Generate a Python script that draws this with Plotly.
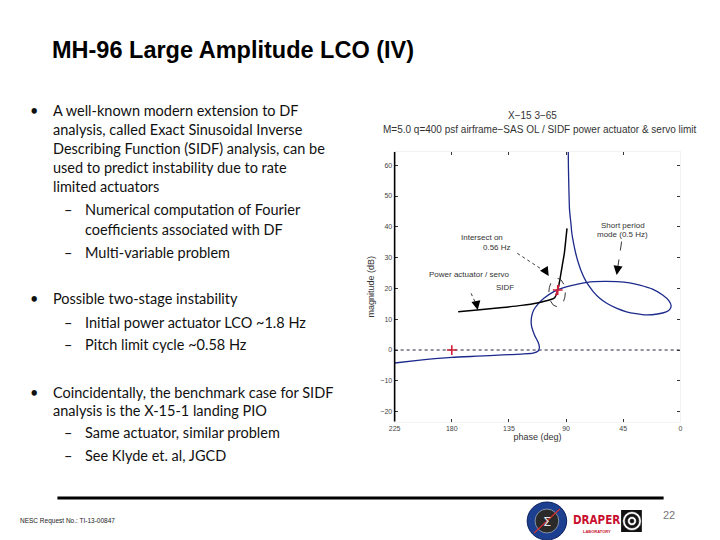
import plotly.graph_objects as go

W, H = 720, 540

# airframe-SAS open loop (blue Nichols curve)
blue_phase = [225, 205, 180, 160, 140, 125, 116, 112, 111, 112, 115, 117.3, 117.2, 115.5, 112,
              107.5, 100, 90, 80, 73.5, 60, 50, 40, 32, 22, 14, 9, 7.3, 8.5, 11.2, 18, 26.8,
              35, 42.4, 50, 58, 64, 68.5, 72, 74.2, 77.5, 80.2, 82.5, 84.1, 85.5, 86.2, 87.3,
              87.8, 88.2, 88.4]
blue_mag = [-4.2, -3.3, -2.4, -2.0, -1.6, -1.3, -1.0, -0.3, 0.8, 2.5, 5.0, 8.0, 10.8, 13.0, 15.0,
            16.8, 18.9, 20.5, 21.5, 22.0, 22.3, 22.2, 21.8, 21.1, 19.8, 17.9, 16.0, 14.4, 13.1,
            12.4, 11.7, 11.4, 11.8, 12.4, 13.5, 15.2, 17.0, 18.9, 20.8, 22.2, 25.0, 28.1, 31.5,
            34.6, 38.0, 41.1, 45.5, 52.0, 60.0, 70.0]

# power actuator / servo SIDF (black curve)
sidf_phase = [175, 160, 140, 125, 112.7, 102, 99, 97.5, 96.6, 95.5, 94.5, 93, 91.4, 90.3, 89.3]
sidf_mag = [12.4, 13.0, 13.8, 14.5, 15.3, 16.4, 17.0, 18.3, 19.5, 21.5, 23.8, 27.5, 31.4, 35.5, 39.5]

red_seg_phase = [98.2, 96.6, 95.6]
red_seg_mag = [17.6, 19.5, 21.2]

cross_phase = [180, 96.6]
cross_mag = [0, 19.5]

zero_phase = [225, 0]
zero_mag = [0, 0]

x_ticks = [225, 180, 135, 90, 45, 0]
y_ticks = [-20, -10, 0, 10, 20, 30, 40, 50, 60]

# slide text
body_lines = [
    ("•", 22, 110), ("A well-known modern extension to DF", 46, 110),
    ("analysis, called Exact Sinusoidal Inverse", 46, 129),
    ("Describing Function (SIDF) analysis, can be", 46, 148),
    ("used to predict instability due to rate", 46, 167),
    ("limited actuators", 46, 186),
    ("–", 57, 210), ("Numerical computation of Fourier", 78, 210),
    ("coefficients associated with DF", 78, 229),
    ("–", 57, 252), ("Multi-variable problem", 78, 252),
    ("•", 22, 298), ("Possible two-stage instability", 46, 298),
    ("–", 57, 322), ("Initial power actuator LCO ~1.8 Hz", 78, 322),
    ("–", 57, 344), ("Pitch limit cycle ~0.58 Hz", 78, 344),
    ("•", 22, 392), ("Coincidentally, the benchmark case for SIDF", 46, 392),
    ("analysis is the X-15-1 landing PIO", 46, 410),
    ("–", 57, 432), ("Same actuator, similar problem", 78, 432),
    ("–", 57, 455), ("See Klyde et. al, JGCD", 78, 455),
]


def px(x):
    return x / W


def py(y):
    return 1 - y / H


fig = go.Figure()

fig.add_trace(go.Scatter(x=zero_phase, y=zero_mag, mode="lines",
                         line=dict(color="#222244", width=1.1, dash="dot"), hoverinfo="skip"))
fig.add_trace(go.Scatter(x=blue_phase, y=blue_mag, mode="lines",
                         line=dict(color="#1c2a8c", width=1.3, shape="spline", smoothing=0.6)))
fig.add_trace(go.Scatter(x=sidf_phase, y=sidf_mag, mode="lines",
                         line=dict(color="black", width=1.5, shape="spline", smoothing=0.6)))
fig.add_trace(go.Scatter(x=red_seg_phase, y=red_seg_mag, mode="lines",
                         line=dict(color="#d0203a", width=1.4)))
fig.add_trace(go.Scatter(x=cross_phase, y=cross_mag, mode="markers",
                         marker=dict(symbol="cross-thin", size=7, color="#d0203a",
                                     line=dict(color="#d0203a", width=1.6))))

tick_font = dict(family="Liberation Sans", size=7, color="#444")
fig.update_xaxes(range=[225, 0], tickvals=x_ticks, ticktext=[str(t) for t in x_ticks],
                 ticks="inside", ticklen=3, tickcolor="#333", mirror="ticks", showline=True,
                 linecolor="#f2f2f2", showgrid=False, zeroline=False, tickfont=tick_font,
                 domain=[px(393), px(682)],
                 title=dict(text="phase (deg)", font=dict(family="Liberation Sans", size=9, color="#333"),
                            standoff=2))
fig.update_yaxes(range=[-23.2, 64.3], tickvals=y_ticks, ticks="inside", ticklen=3, tickcolor="#333",
                 mirror="ticks", showline=True, linecolor="#f2f2f2", showgrid=False, zeroline=False,
                 tickfont=tick_font, domain=[py(421.5), py(152)],
                 title=dict(text="magnitude (dB)", font=dict(family="Liberation Sans", size=9, color="#333"),
                            standoff=4))

shapes = [
    # left axis line
    dict(type="line", xref="paper", yref="paper", x0=px(393), x1=px(393), y0=py(421.5), y1=py(152),
         line=dict(color="black", width=1.6)),
    # dashed ellipse around intersection
    dict(type="circle", xref="x", yref="y", x0=103.6, x1=90.6, y0=14.1, y1=23.3,
         line=dict(color="#222", width=0.9, dash="dash")),
    # arrow shafts
    dict(type="line", xref="x", yref="y", x0=128.4, y0=31.4, x1=105.5, y1=25.2,
         line=dict(color="#222", width=0.9, dash="dot")),
    dict(type="line", xref="x", yref="y", x0=46.3, y0=35.2, x1=49.6, y1=26.0,
         line=dict(color="#222", width=0.9, dash="dash")),
    dict(type="line", xref="x", yref="y", x0=164.8, y0=18.4, x1=160.3, y1=14.4,
         line=dict(color="#222", width=0.9, dash="dot")),
    # footer rule
    dict(type="line", xref="paper", yref="paper", x0=px(52), x1=px(665), y0=py(498), y1=py(498),
         line=dict(color="black", width=3)),
    # NESC logo
    dict(type="circle", xref="paper", yref="paper", x0=px(527), x1=px(567), y0=py(540), y1=py(502),
         fillcolor="#1d3f8f", line=dict(color="#0c2060", width=1)),
    dict(type="circle", xref="paper", yref="paper", x0=px(535), x1=px(559), y0=py(533), y1=py(509),
         fillcolor="#2a2a2a", line=dict(color="#9ab", width=0.8)),
    dict(type="line", xref="paper", yref="paper", x0=px(534), x1=px(560), y0=py(533), y1=py(509),
         line=dict(color="#d03030", width=1.2)),
    # Draper target icon
    dict(type="rect", xref="paper", yref="paper", x0=px(622), x1=px(643), y0=py(532), y1=py(510),
         fillcolor="#111", line=dict(width=0)),
]
for r in [9.5, 7, 4.5, 2]:
    shapes.append(dict(type="circle", xref="paper", yref="paper", x0=px(633 - r), x1=px(633 + r),
                       y0=py(521 + r), y1=py(521 - r), fillcolor="white" if r in (9.5, 4.5) else "#111",
                       line=dict(color="#111", width=0.6)))

annotations = []
# arrow heads
for (tx, ty, sx, sy) in [(103.7, 24.0, 105.5, 25.2), (50.2, 24.4, 49.6, 26.0), (159.6, 13.0, 160.3, 14.4)]:
    annotations.append(dict(x=tx, y=ty, ax=sx, ay=sy, xref="x", yref="y", axref="x", ayref="y",
                            text="", showarrow=True, arrowhead=2, arrowsize=1.3, arrowwidth=1.4,
                            arrowcolor="black"))

chart_font = dict(family="Liberation Sans", size=8, color="#333")
for txt, x, y in [("Intersect on", 481.5, 237), ("0.56 Hz", 496.5, 247),
                  ("Short period", 624, 225), ("mode (0.5 Hz)", 623.5, 235),
                  ("Power actuator / servo", 469, 274), ("SIDF", 505, 287)]:
    annotations.append(dict(x=px(x), y=py(y), xref="paper", yref="paper", text=txt, showarrow=False,
                            xanchor="center", yanchor="middle", font=chart_font))

annotations.append(dict(x=px(532), y=py(115), xref="paper", yref="paper", text="X−15 3−65",
                        showarrow=False, xanchor="center", yanchor="middle",
                        font=dict(family="Liberation Sans", size=10, color="#333")))
annotations.append(dict(x=px(540), y=py(130), xref="paper", yref="paper",
                        text="M=5.0 q=400 psf airframe−SAS OL / SIDF power actuator &amp; servo limit",
                        showarrow=False, xanchor="center", yanchor="middle",
                        font=dict(family="Liberation Sans", size=10, color="#333")))

# slide title
annotations.append(dict(x=px(44), y=py(50), xref="paper", yref="paper",
                        text="<b>MH-96 Large Amplitude LCO (IV)</b>", showarrow=False,
                        xanchor="left", yanchor="middle",
                        font=dict(family="Liberation Sans", size=23.5, color="black")))

for txt, x, y in body_lines:
    annotations.append(dict(x=px(x), y=py(y), xref="paper", yref="paper", text=txt, showarrow=False,
                            xanchor="left", yanchor="middle",
                            font=dict(family="Lato", size=14.5, color="#111")))

# footer
annotations.append(dict(x=px(12), y=py(521), xref="paper", yref="paper",
                        text="NESC Request No.: TI-13-00847", showarrow=False, xanchor="left",
                        yanchor="middle", font=dict(family="Liberation Sans", size=6.5, color="#222")))
annotations.append(dict(x=px(670), y=py(515), xref="paper", yref="paper", text="22", showarrow=False,
                        xanchor="center", yanchor="middle",
                        font=dict(family="Liberation Sans", size=11, color="#777")))
annotations.append(dict(x=px(547), y=py(521), xref="paper", yref="paper", text="Σ", showarrow=False,
                        xanchor="center", yanchor="middle",
                        font=dict(family="DejaVu Sans", size=13, color="#e8e8e8")))
annotations.append(dict(x=px(597.5), y=py(520), xref="paper", yref="paper", text="<b>DRAPER</b>",
                        showarrow=False, xanchor="center", yanchor="middle",
                        font=dict(family="DejaVu Sans Condensed", size=11.5, color="#c8102e")))
annotations.append(dict(x=px(597.5), y=py(531), xref="paper", yref="paper", text="<b>LABORATORY</b>",
                        showarrow=False, xanchor="center", yanchor="middle",
                        font=dict(family="Liberation Sans", size=4, color="#c8102e")))

fig.update_layout(width=W, height=H, margin=dict(l=0, r=0, t=0, b=0),
                  paper_bgcolor="white", plot_bgcolor="white", showlegend=False,
                  shapes=shapes, annotations=annotations)

# page body margin would otherwise shift the 720x540 figure by 8px
fig.write_html("out.html", config={"displayModeBar": False},
               post_script="document.body.style.margin='0px';")
